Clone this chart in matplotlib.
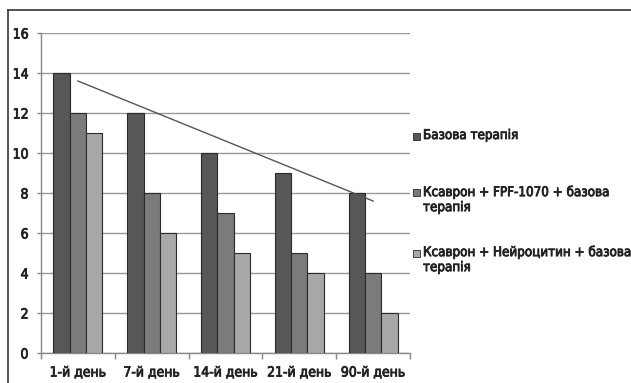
import numpy as np
import matplotlib.pyplot as plt
import matplotlib.patheffects as pe
from matplotlib.lines import Line2D
from matplotlib.patches import Rectangle

# Results by observation day for the three treatment groups
days = ['1-й день', '7-й день', '14-й день', '21-й день', '90-й день']
base_therapy = [14, 12, 10, 9, 8]
xavron_fpf = [12, 8, 7, 5, 4]
xavron_neuro = [11, 6, 5, 4, 2]

series_names = ['Базова терапія',
                'Ксаврон + FPF-1070 + базова\nтерапія',
                'Ксаврон + Нейроцитин + базова\nтерапія']
series_colors = ['#575757', '#7b7b7b', '#a8a8a8']

plt.rcParams['font.family'] = ['DejaVu Sans']
plt.rcParams['font.stretch'] = 'condensed'
TXT = '#222222'
FS = 9.6
# slightly heavier strokes for the narrow regular face
heavy = [pe.withStroke(linewidth=0.6, foreground=TXT)]

W, H = 631, 383
fig = plt.figure(figsize=(W / 100, H / 100), dpi=100, facecolor='white')
ax = fig.add_axes([41 / W, 1 - 353 / H, (410 - 41) / W, (353 - 33) / H])

x = np.arange(len(days))
width = 0.222
for i, (vals, col) in enumerate(zip([base_therapy, xavron_fpf, xavron_neuro], series_colors)):
    ax.bar(x + (i - 1) * width, vals, width, color=col, edgecolor='#2a2a2a',
           linewidth=0.8, zorder=3)

# Linear trend for the base therapy group
k, b = np.polyfit(x, base_therapy, 1)
ax.plot([x[0], x[-1]], [k * x[0] + b, k * x[-1] + b], color='#555555', lw=1.0, zorder=4)

ax.set_xlim(-0.5, len(days) - 0.5)
ax.set_ylim(0, 16)
ax.set_yticks(range(0, 17, 2))
ax.grid(axis='y', color='#9a9a9a', lw=1.0, zorder=0)
ax.set_axisbelow(True)

ax.set_xticks(x)
ax.set_xticklabels(days)
ax.set_xticks(np.arange(-0.5, len(days)), minor=True)
ax.tick_params(axis='x', which='major', length=0, pad=9, labelsize=FS + 0.4, labelcolor=TXT)
ax.tick_params(axis='x', which='minor', length=4, color='#888888', width=1)
ax.tick_params(axis='y', length=3, color='#888888', width=1, pad=6, labelsize=FS + 0.4,
               labelcolor=TXT)
for lbl in ax.get_xticklabels() + ax.get_yticklabels():
    lbl.set_fontstretch('condensed')
    lbl.set_path_effects(heavy)

for side in ['top', 'right']:
    ax.spines[side].set_visible(False)
for side in ['left', 'bottom']:
    ax.spines[side].set_color('#888888')
    ax.spines[side].set_linewidth(1)

# Legend on the right, square markers aligned with the first text line
legend_y = [136, 193, 253]
for name, col, yy in zip(series_names, series_colors, legend_y):
    fig.patches.append(Rectangle((413 / W, 1 - (yy + 3.5) / H), 7 / W, 7 / H,
                                 transform=fig.transFigure, facecolor=col,
                                 edgecolor='#2a2a2a', lw=0.6))
    fig.text(423 / W, 1 - (yy - 7) / H, name, ha='left', va='top', fontsize=FS,
             fontstretch='condensed', color=TXT, linespacing=1.2,
             path_effects=heavy)

# Frame lines along the top and left edge
fig.add_artist(Line2D([8 / W, 1], [1 - 10 / H, 1 - 10 / H], transform=fig.transFigure,
                      color='#333333', lw=1.2))
fig.add_artist(Line2D([8 / W, 8 / W], [0, 1 - 10 / H], transform=fig.transFigure,
                      color='#333333', lw=1.2))

fig.savefig('out.png', dpi=100, facecolor='white')
